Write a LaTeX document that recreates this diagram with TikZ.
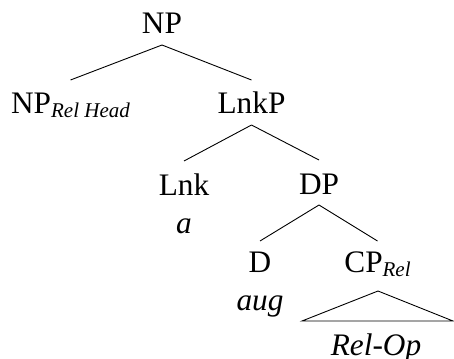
\documentclass[tikz,border=0pt]{standalone}
\usepackage{fontspec}
\setmainfont{Liberation Serif}
\usepackage{tikz}

\newcommand{\treefont}{\fontsize{31.3}{36}\selectfont}
\newcommand{\lab}[1]{\raisebox{-4pt}{\fontsize{21}{24}\selectfont\itshape #1}}

\tikzset{
	cat/.style={inner sep=0pt, text height=23pt, text depth=0pt, outer ysep=11pt, anchor=base, font=\treefont},
	lex/.style={inner sep=0pt, anchor=base, font=\treefont\itshape},
	branch/.style={line width=0.9pt},
}

\begin{document}
\begin{tikzpicture}[x=1pt, y=-1pt]
	\useasboundingbox (0,0) rectangle (454,358);
	
	\node[cat] (np) at (162,34) {NP};
	\node[cat] (nphead) at (70.5,114) {NP\lab{Rel Head}};
	\node[cat] (lnkp) at (251.5,114) {LnkP};
	
	\node[cat] (lnk) at (184,195) {Lnk};
	\node[cat] (dp) at (319,194) {DP};
	\node[lex] (lnka) at ([yshift=-38pt]lnk.base) {a};
	
	\node[cat, text height=20pt] (d) at (260,272) {D};
	\node[cat, text height=20pt] (cprel) at (377.5,272) {CP\lab{Rel}};
	\node[lex] (daug) at ([yshift=-38pt]d.base) {aug};
	
	% roof over the relative clause
	\coordinate (roof) at (378,291);
	\node[lex] (relop) at (376,355) {Rel-Op};
	
	\draw[branch] (np.south) -- (nphead.north);
	\draw[branch] (np.south) -- (lnkp.north);
	\draw[branch] (lnkp.south) -- (lnk.north);
	\draw[branch] (lnkp.south) -- (dp.north);
	\draw[branch] (dp.south) -- (d.north);
	\draw[branch] (dp.south) -- (cprel.north);
	\draw[branch] (roof) -- +(-76,30) -- +(75,30) -- cycle;
\end{tikzpicture}
\end{document}
